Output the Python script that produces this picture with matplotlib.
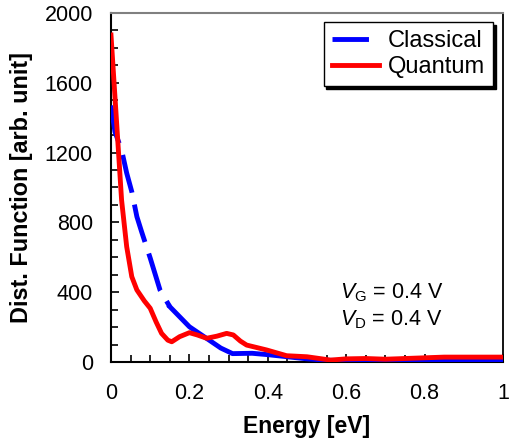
import matplotlib
matplotlib.use("Agg")
import matplotlib.pyplot as plt
from matplotlib.lines import Line2D
from matplotlib.ticker import MultipleLocator

plt.rcParams['font.family'] = ['Liberation Sans', 'DejaVu Sans']
plt.rcParams['mathtext.fontset'] = 'custom'
plt.rcParams['mathtext.rm'] = 'Liberation Sans'
plt.rcParams['mathtext.it'] = 'Liberation Sans:italic'

# Classical distribution (dashed part then solid part)
cl_x = [0, 0.01, 0.027, 0.04, 0.053, 0.066, 0.078, 0.10, 0.125, 0.15,
        0.20, 0.25, 0.28, 0.31, 0.36, 0.40, 0.45, 0.50, 0.55, 0.60, 0.70, 0.80, 0.90, 1.0]
cl_y = [1470, 1320, 1215, 1083, 976, 833, 747, 596, 413, 317,
        202, 126, 80, 48, 50, 42, 30, 18, 10, 8, 6, 6, 7, 8]
cl_split = 0.15

# Quantum distribution
qu_x = [0, 0.027, 0.04, 0.053, 0.066, 0.085, 0.10, 0.115, 0.129,
        0.145, 0.155, 0.175, 0.20, 0.22, 0.244, 0.27, 0.295, 0.312, 0.33, 0.346,
        0.397, 0.448, 0.5, 0.56, 0.6, 0.65, 0.7, 0.75, 0.8, 0.85, 0.9, 1.0]
qu_y = [1874, 928, 661, 489, 413, 350, 308, 230, 164,
        125, 116, 145, 168, 155, 136, 148, 164, 155, 120, 97,
        69, 36, 30, 11, 18, 20, 16, 20, 24, 28, 28, 28]

x_ticks = [0, 0.2, 0.4, 0.6, 0.8, 1]
x_ticklabels = ['0', '0.2', '0.4', '0.6', '0.8', '1']
y_ticks = [0, 400, 800, 1200, 1600, 2000]

fig = plt.figure(figsize=(5.16, 4.42), dpi=100)
ax = fig.add_axes([111/516, 1-362/442, 392/516, 349/442])

blue = '#0000ff'
red = '#ff0000'

i_split = cl_x.index(cl_split)
ax.plot(cl_x[:i_split+1], cl_y[:i_split+1], color=blue, lw=3.5,
        dashes=(8, 2.5), solid_capstyle='butt', dash_capstyle='butt', zorder=3)
ax.plot(cl_x[i_split:], cl_y[i_split:], color=blue, lw=3.5, zorder=3)
ax.plot(qu_x, qu_y, color=red, lw=3.5, zorder=4)

ax.set_xlim(0, 1)
ax.set_ylim(0, 2000)
ax.set_xticks(x_ticks)
ax.set_xticklabels(x_ticklabels)
ax.set_yticks(y_ticks)
ax.xaxis.set_minor_locator(MultipleLocator(0.05))
ax.yaxis.set_minor_locator(MultipleLocator(100))
ax.tick_params(which='both', direction='in', top=False, right=False,
               width=1.2, labelsize=15.5)
ax.tick_params(which='major', length=6)
ax.tick_params(which='minor', length=5)
ax.tick_params(axis='x', pad=15)
ax.tick_params(axis='y', pad=13)

for s in ['left', 'bottom']:
    ax.spines[s].set_linewidth(1.5)
    ax.spines[s].set_color('black')
ax.spines['right'].set_color('black')
ax.spines['right'].set_linewidth(1.3)
ax.spines['top'].set_color('#808080')
ax.spines['top'].set_linewidth(1.5)

ax.set_xlabel('Energy [eV]', fontsize=16.5, fontweight='bold')
ax.set_ylabel('Dist. Function [arb. unit]', fontsize=16.8, fontweight='bold')
ax.xaxis.set_label_coords(0.5, (362-427)/349)
ax.xaxis.label.set_va('center')
ax.yaxis.set_label_coords((22-111)/392, 0.5)
ax.yaxis.label.set_va('center')

ax.text(0.584, 0.2, r'$V_{\mathrm{G}}$ = 0.4 V', transform=ax.transAxes,
        fontsize=15.5, va='center', ha='left')
ax.text(0.584, 0.12, r'$V_{\mathrm{D}}$ = 0.4 V', transform=ax.transAxes,
        fontsize=15.5, va='center', ha='left')

handles = [Line2D([], [], color=blue, lw=3.5, dashes=(7.5, 4, 1.2, 4)),
           Line2D([], [], color=red, lw=3.5)]
leg = ax.legend(handles, ['Classical', 'Quantum'], loc='upper right',
                bbox_to_anchor=(0.974, 0.974), borderaxespad=0,
                fontsize=17, fancybox=False, edgecolor='black',
                shadow={'color': 'black', 'alpha': 1},
                handlelength=2.0, handletextpad=0.35, labelspacing=0.15,
                borderpad=0.35, framealpha=1)
leg.get_frame().set_linewidth(1.0)

fig.savefig('out.png', dpi=100)
